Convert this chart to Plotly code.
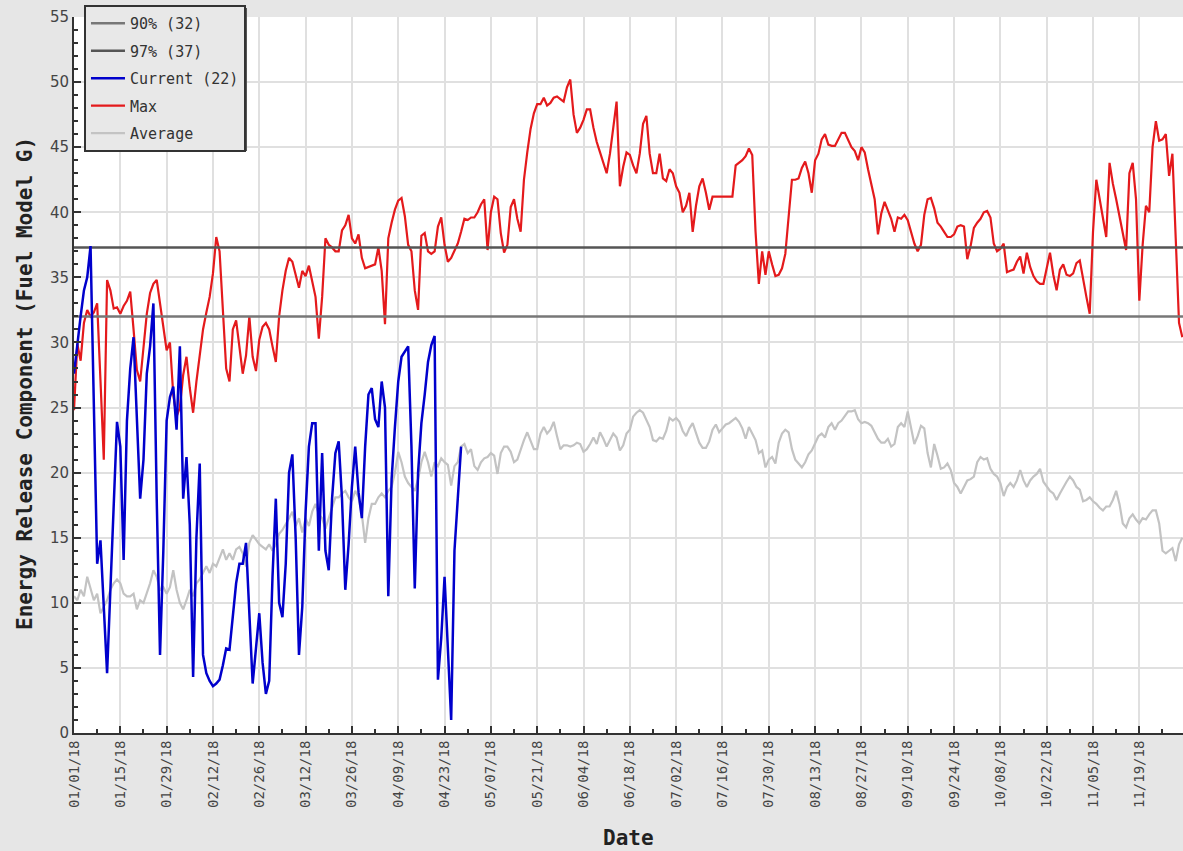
import numpy as np
import pandas as pd
import plotly.graph_objects as go

# ---------------- data ----------------
start_date = "2018-01-01"

current_vals = [
    27.6, 30.0, 32.0, 34.0, 35.0, 37.4, 25.0, 13.0, 14.8, 9.2,
    4.6, 11.0, 18.2, 23.9, 22.0, 13.3, 24.0, 28.0, 30.4, 24.3,
    18.0, 21.0, 27.6, 29.7, 33.0, 18.0, 6.0, 14.0, 24.0, 25.8,
    26.6, 23.3, 29.7, 18.0, 21.2, 16.0, 4.3, 15.0, 20.7, 6.0,
    4.6, 4.0, 3.6, 3.8, 4.1, 5.2, 6.5, 6.4, 9.0, 11.5,
    13.0, 13.0, 14.6, 9.2, 3.8, 6.5, 9.2, 5.4, 3.0, 4.0,
    12.0, 18.0, 10.0, 8.9, 13.0, 20.0, 21.4, 15.0, 6.0, 9.7,
    17.0, 22.0, 23.8, 23.8, 14.0, 21.5, 14.0, 12.5, 18.0, 21.5,
    22.4, 18.0, 11.0, 14.5, 18.9, 22.0, 18.5, 16.5, 22.0, 26.0,
    26.5, 24.1, 23.5, 27.0, 25.0, 10.5, 19.5, 23.5, 27.0, 28.9,
    29.3, 29.7, 22.0, 11.1, 20.0, 23.8, 26.0, 28.5, 29.8, 30.5,
    4.1, 7.3, 12.0, 7.0, 1.0, 14.0, 18.0, 22.0,
]

max_vals = [
    24.8, 29.9, 28.6, 31.5, 32.5, 32.0, 32.3, 33.0, 27.1, 21.0,
    34.8, 34.0, 32.6, 32.7, 32.2, 32.8, 33.2, 33.9, 31.0, 27.9,
    27.0, 29.5, 32.2, 33.8, 34.5, 34.8, 33.0, 31.0, 29.4, 30.0,
    26.0, 24.3, 25.0, 27.5, 28.9, 26.5, 24.6, 27.0, 28.9, 31.0,
    32.3, 33.5, 35.3, 38.1, 37.0, 32.0, 28.0, 27.0, 31.0, 31.7,
    29.5, 27.6, 29.0, 32.0, 28.9, 27.8, 30.2, 31.2, 31.5, 31.0,
    29.7, 28.5, 32.0, 34.0, 35.5, 36.5, 36.2, 35.2, 34.2, 35.5,
    35.1, 35.9, 34.8, 33.5, 30.3, 33.5, 38.0, 37.5, 37.3, 37.0,
    37.0, 38.6, 39.0, 39.8, 38.0, 37.6, 38.3, 36.5, 35.7, 35.8,
    35.9, 36.0, 37.3, 35.5, 31.4, 38.0, 39.2, 40.2, 40.9, 41.1,
    39.7, 37.5, 37.0, 34.0, 32.5, 38.2, 38.4, 37.0, 36.8, 37.0,
    38.9, 39.6, 37.5, 36.2, 36.5, 37.0, 37.6, 38.5, 39.5, 39.4,
    39.6, 39.6, 40.0, 40.6, 41.0, 37.1, 40.0, 41.2, 41.0, 38.4,
    36.9, 37.5, 40.4, 41.0, 39.5, 38.5, 42.5, 44.6, 46.4, 47.6,
    48.3, 48.3, 48.8, 48.2, 48.4, 48.8, 48.9, 48.7, 48.5, 49.6,
    50.2, 47.5, 46.1, 46.5, 47.1, 47.9, 47.9, 46.5, 45.4, 44.6,
    43.8, 43.0, 44.5, 46.5, 48.5, 42.0, 43.5, 44.6, 44.4, 43.6,
    43.0, 44.5, 46.8, 47.4, 44.5, 43.0, 43.0, 44.5, 42.6, 42.4,
    43.3, 43.0, 42.0, 41.5, 40.0, 40.5, 41.5, 38.5, 40.5, 42.0,
    42.6, 41.5, 40.2, 41.2, 41.2, 41.2, 41.2, 41.2, 41.2, 41.2,
    43.6, 43.8, 44.0, 44.3, 44.9, 44.4, 38.5, 34.5, 37.0, 35.2,
    37.0, 36.0, 35.1, 35.2, 35.7, 36.8, 39.4, 42.5, 42.5, 42.6,
    43.4, 43.9, 43.0, 41.5, 44.0, 44.5, 45.6, 46.0, 45.2, 45.1,
    45.1, 45.6, 46.1, 46.1, 45.6, 45.0, 44.7, 44.0, 45.0, 44.6,
    43.3, 42.1, 41.0, 38.3, 39.9, 40.8, 40.2, 39.5, 38.5, 39.6,
    39.5, 39.8, 39.4, 38.5, 37.6, 37.0, 37.5, 39.8, 41.0, 41.1,
    40.3, 39.2, 38.9, 38.5, 38.1, 38.1, 38.3, 38.9, 39.0, 38.9,
    36.4, 37.4, 38.8, 39.2, 39.5, 40.0, 40.1, 39.6, 37.6, 37.0,
    37.2, 37.6, 35.4, 35.5, 35.6, 36.2, 36.6, 35.3, 36.9, 35.8,
    35.1, 34.7, 34.5, 34.5, 35.8, 36.9, 35.2, 34.0, 35.6, 36.0,
    35.2, 35.1, 35.3, 36.1, 36.3, 34.8, 33.5, 32.2, 38.5, 42.5,
    41.0, 39.8, 38.1, 43.8, 42.2, 41.0, 39.7, 38.4, 37.1, 43.0,
    43.8, 41.0, 33.2, 37.5, 40.5, 40.0, 45.0, 47.0, 45.5, 45.6,
    46.0, 42.8, 44.5, 38.0, 31.5, 30.4,
]

avg_vals = [
    10.5, 10.2, 11.0, 10.5, 12.0, 11.0, 10.2, 10.7, 9.2, 9.7,
    10.2, 11.0, 11.5, 11.8, 11.5, 10.7, 10.5, 10.5, 10.7, 9.5,
    10.2, 10.0, 10.7, 11.5, 12.5, 12.0, 11.0, 11.2, 10.7, 11.2,
    12.5, 11.0, 10.0, 9.5, 10.2, 11.0, 10.5, 11.5, 11.8, 12.3,
    12.8, 12.3, 13.0, 12.8, 13.5, 14.1, 13.3, 13.8, 13.3, 14.1,
    14.3, 13.8, 12.8, 14.6, 15.2, 14.8, 14.5, 14.3, 14.1, 14.5,
    14.0, 14.5, 15.3, 15.6, 16.0, 16.5, 17.0, 15.9, 16.5, 15.4,
    16.5, 15.9, 17.0, 17.6, 16.8, 16.5, 15.7, 16.5, 17.3, 18.1,
    18.1, 18.4, 18.6, 18.1, 17.8, 18.6, 18.1, 16.8, 14.6, 16.5,
    17.6, 17.6, 18.1, 18.4, 18.1, 18.6, 18.9, 20.0, 21.6, 20.8,
    19.7, 19.2, 18.9, 18.6, 19.5, 20.8, 21.6, 20.8, 19.7, 20.8,
    20.5, 21.1, 20.8, 20.6, 19.0, 20.5, 20.8, 22.0, 22.2, 21.5,
    21.8, 20.5, 20.2, 20.8, 21.1, 21.2, 21.5, 21.3, 19.9, 21.5,
    22.0, 22.0, 21.6, 20.8, 21.0, 21.8, 22.5, 23.1, 22.5, 21.8,
    21.8, 23.0, 23.5, 23.0, 23.3, 23.9, 22.8, 21.8, 22.1, 22.1,
    22.0, 22.1, 22.3, 22.2, 21.6, 21.8, 22.2, 22.7, 22.2, 23.1,
    22.6, 22.0, 22.5, 23.0, 22.7, 21.7, 22.1, 23.0, 23.3, 24.3,
    24.6, 24.8, 24.6, 24.0, 23.5, 22.5, 22.4, 22.7, 22.6, 23.2,
    24.2, 24.0, 24.2, 23.9, 23.2, 22.8, 23.4, 23.8, 23.1, 22.3,
    21.9, 21.9, 22.4, 23.3, 23.7, 23.1, 23.4, 23.7, 23.8, 24.0,
    24.2, 23.9, 23.4, 22.6, 23.5, 23.0, 22.5, 21.5, 21.7, 20.4,
    21.0, 21.2, 20.7, 22.3, 23.0, 23.3, 23.1, 21.8, 21.0, 20.7,
    20.4, 20.8, 21.4, 21.7, 22.2, 22.8, 23.0, 22.7, 23.5, 23.8,
    23.3, 23.8, 24.0, 24.4, 24.7, 24.7, 24.8, 24.1, 23.8, 23.9,
    23.8, 23.6, 23.1, 22.6, 22.3, 22.3, 22.6, 22.0, 22.2, 23.5,
    23.8, 23.5, 24.7, 23.5, 22.2, 22.8, 23.6, 23.4, 21.5, 20.4,
    22.2, 21.3, 20.3, 20.4, 20.7, 20.2, 19.2, 18.9, 18.4, 18.9,
    19.4, 19.5, 19.7, 20.8, 21.2, 21.0, 21.1, 20.3, 19.9, 19.7,
    19.2, 18.2, 18.9, 19.2, 18.9, 19.4, 20.2, 19.4, 18.9, 19.4,
    19.7, 19.9, 20.3, 19.3, 18.9, 18.6, 18.4, 17.9, 18.4, 18.9,
    19.3, 19.7, 19.4, 18.9, 18.7, 17.8, 17.9, 18.1, 17.8, 17.6,
    17.3, 17.1, 17.4, 17.4, 17.9, 18.6, 17.6, 16.1, 15.8, 16.5,
    16.8, 16.4, 16.1, 16.5, 16.4, 16.8, 17.1, 17.1, 16.1, 14.0,
    13.8, 14.0, 14.2, 13.2, 14.5, 15.0,
]

p90_value = 32.0
p97_value = 37.3
threshold_span = ["2018-01-01", "2018-12-31"]

series_names = ["90% (32)", "97% (37)", "Current (22)", "Max", "Average"]
y_ticks = [0, 5, 10, 15, 20, 25, 30, 35, 40, 45, 50, 55]
x_view_days = 335.2
x_tick_days = 14
x_minor_days = 7

# ---------------- figure ----------------
start = pd.Timestamp(start_date)


def day_dates(n):
    return start + pd.to_timedelta(np.arange(n), unit="D")


fig = go.Figure()

# drawing order: Average, Max, thresholds, Current (legend order set by legendrank)
fig.add_trace(go.Scatter(
    x=day_dates(len(avg_vals)), y=avg_vals, mode="lines", name=series_names[4],
    line=dict(color="#c3c3c3", width=2.2), legendrank=5, legendgroup="g5"))
fig.add_trace(go.Scatter(
    x=day_dates(len(max_vals)), y=max_vals, mode="lines", name=series_names[3],
    line=dict(color="#e41a1c", width=2.2), legendrank=4, legendgroup="g4"))
fig.add_trace(go.Scatter(
    x=threshold_span, y=[p90_value, p90_value], mode="lines", name=series_names[0],
    line=dict(color="#777777", width=2.5), legendrank=1, legendgroup="g1"))
fig.add_trace(go.Scatter(
    x=threshold_span, y=[p97_value, p97_value], mode="lines", name=series_names[1],
    line=dict(color="#555555", width=2.5), legendrank=2, legendgroup="g2"))
fig.add_trace(go.Scatter(
    x=day_dates(len(current_vals)), y=current_vals, mode="lines", name=series_names[2],
    line=dict(color="#0000cc", width=2.5), legendrank=3, legendgroup="g3"))

x_end = start + pd.Timedelta(days=x_view_days)
day_ms = 86400000

fig.update_xaxes(
    type="date", range=[start, x_end], automargin=False,
    tick0=start_date, dtick=x_tick_days * day_ms, tickformat="%m/%d/%y",
    tickangle=-90, ticks="inside", ticklen=7, tickwidth=2, tickcolor="#333333",
    showline=True, linecolor="#333333", linewidth=2, mirror=False,
    showgrid=True, gridcolor="#e0e0e0", gridwidth=2, zeroline=False,
    tickfont=dict(family="DejaVu Sans Mono", size=14, color="#444444"),
    minor=dict(tick0=start_date, dtick=x_minor_days * day_ms, ticks="inside",
               ticklen=4, tickwidth=2, tickcolor="#333333", showgrid=False),
)
fig.update_yaxes(
    range=[0, 55], automargin=False, tickmode="array", tickvals=y_ticks,
    ticks="inside", ticklen=7, tickwidth=2, tickcolor="#333333",
    showline=True, linecolor="#333333", linewidth=2,
    showgrid=True, gridcolor="#e0e0e0", gridwidth=2, zeroline=False,
    tickfont=dict(family="DejaVu Sans", size=15, color="#444444"),
    minor=dict(dtick=1, tick0=0, ticks="inside", ticklen=4, tickwidth=2,
               tickcolor="#333333", showgrid=False),
)

fig.update_layout(
    width=1183, height=851,
    paper_bgcolor="#e6e6e6", plot_bgcolor="#ffffff",
    margin=dict(l=74, r=0, t=17, b=118, pad=0),
    showlegend=True,
    legend=dict(
        x=0.009, y=1.0168, xanchor="left", yanchor="top",
        bgcolor="#e8e8e8", bordercolor="#333333", borderwidth=2,
        font=dict(family="DejaVu Sans Mono", size=15, color="#333333"),
        tracegroupgap=5, itemwidth=34,
    ),
    shapes=[dict(
        type="rect", xref="paper", yref="paper",
        x0=0.0117, x1=0.156, y0=0.8128, y1=1.0126,
        fillcolor="#555555", line=dict(width=0), layer="above",
    )],
    annotations=[
        dict(text="<b>Date</b>", xref="paper", yref="paper", x=0.5, y=0,
             xanchor="center", yanchor="middle", yshift=-105, showarrow=False,
             font=dict(family="DejaVu Sans Mono", size=21, color="#222222")),
        dict(text="<b>Energy Release Component (Fuel Model G)</b>", xref="paper",
             yref="paper", x=0, y=0.5, xanchor="center", yanchor="middle",
             xshift=-49, yshift=-9, textangle=-90, showarrow=False,
             font=dict(family="DejaVu Sans Mono", size=21, color="#222222")),
    ],
    hovermode=False,
)

fig.write_html("out.html", config={"displayModeBar": False},
               post_script="document.body.style.margin='0';")
